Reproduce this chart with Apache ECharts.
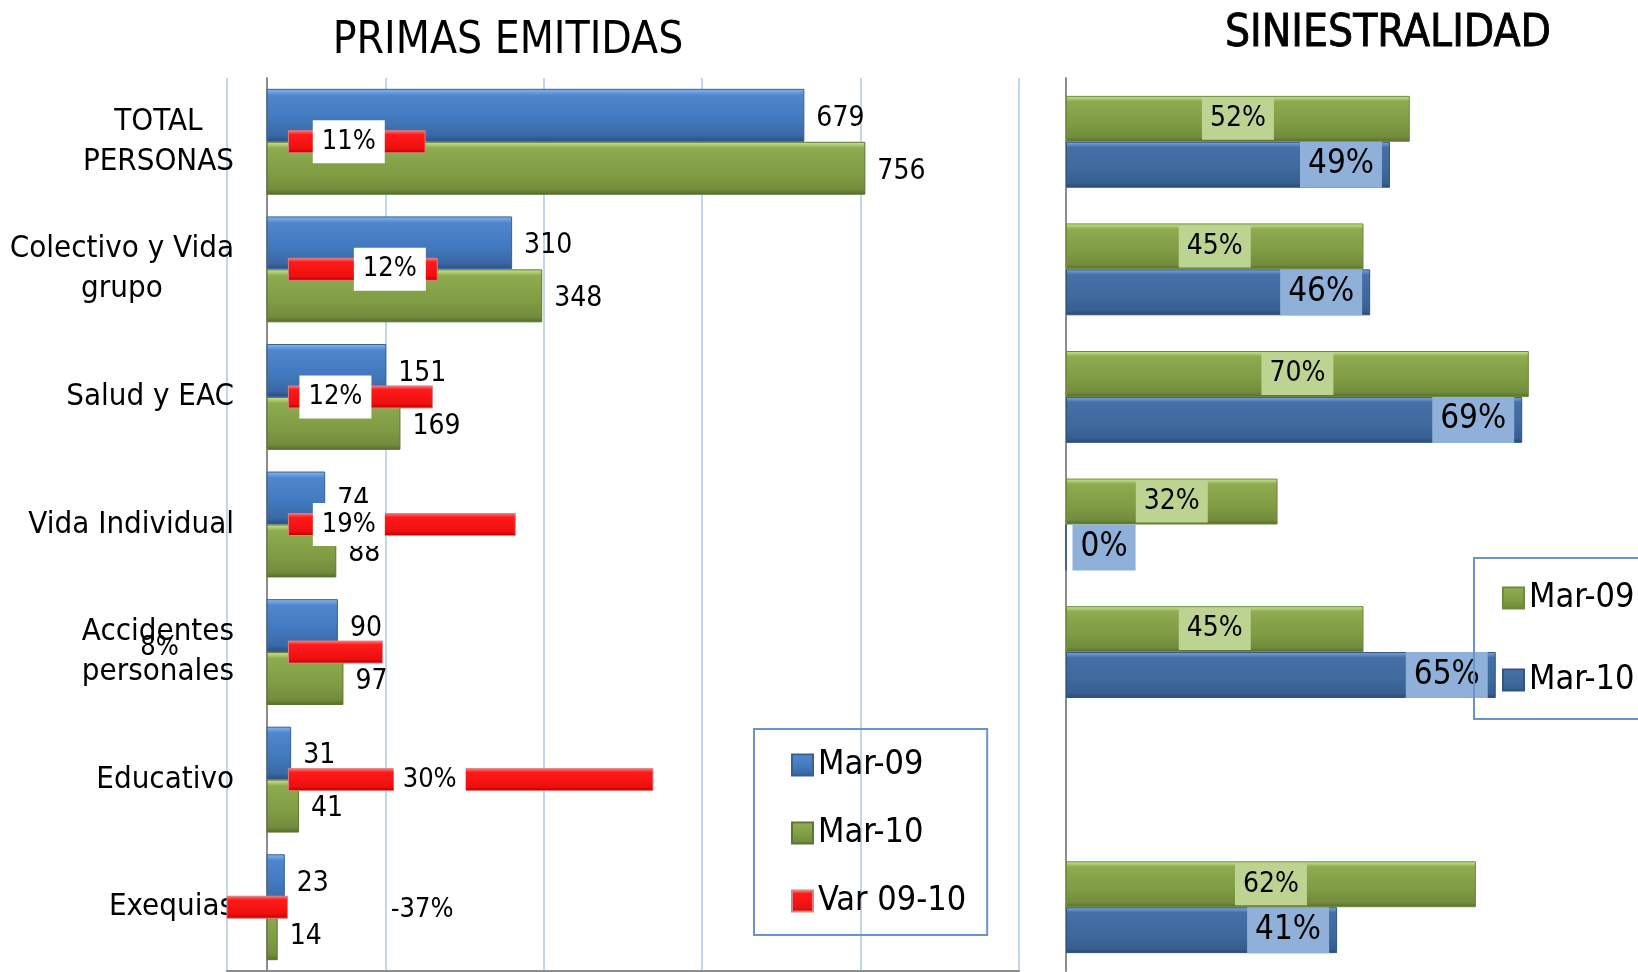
<!DOCTYPE html>
<html>
<head>
<meta charset="utf-8">
<script src="https://cdn.jsdelivr.net/npm/echarts@6/dist/echarts.min.js"></script>
<style>
  html, body { margin: 0; padding: 0; background: #ffffff; }
  #chart { width: 1638px; height: 972px; }
</style>
</head>
<body>
<div id="chart"></div>
<script>
// ---- data ----
var categories = ['TOTAL\nPERSONAS', 'Colectivo y Vida\ngrupo', 'Salud y EAC', 'Vida Individual', 'Accidentes\npersonales', 'Educativo', 'Exequias'];
var primasMar09 = [679, 310, 151, 74, 90, 31, 23];
var primasMar10 = [756, 348, 169, 88, 97, 41, 14];
var var0910 = [0.113, 0.123, 0.119, 0.187, 0.078, 0.30, -0.37];
var siniMar09 = [0.52, 0.45, 0.70, 0.32, 0.45, null, 0.62];
var siniMar10 = [0.49, 0.46, 0.69, 0.00, 0.65, null, 0.41];
var legendLeft = ['Mar-09', 'Mar-10', 'Var 09-10'];
var legendRight = ['S Mar-09', 'S Mar-10'];

// label placement tweaks for the variation labels (horizontal shift in px)
var varLabelShift = [-8, 27, -25, -53, -176, -41, 165];

var FONT = "'Liberation Sans Narrow', 'DejaVu Sans Condensed', 'Liberation Sans', sans-serif";

function grad(stops) {
  return { type: 'linear', x: 0, y: 0, x2: 0, y2: 1,
    colorStops: stops.map(function (s) { return { offset: s[0], color: s[1] }; }) };
}
var blueL = grad([[0, '#8ab8f0'], [0.12, '#4f86cc'], [0.55, '#427abf'], [0.88, '#3a68a6'], [1, '#2a4d7e']]);
var blueR = grad([[0, '#7ea9e0'], [0.12, '#466fa6'], [0.6, '#3e6a9e'], [0.9, '#375e8f'], [1, '#2a486f']]);
var green = grad([[0, '#cfe895'], [0.12, '#8eab4f'], [0.6, '#809c44'], [0.9, '#728c3c'], [1, '#55692c']]);
var red = grad([[0, '#ff8080'], [0.18, '#ff1a1a'], [0.8, '#ee0f0f'], [1, '#b30000']]);

function pct(v) { return Math.round(v * 100) + '%'; }

var varData = var0910.map(function (v, i) {
  var item = { value: v, label: { offset: [varLabelShift[i], 0] } };
  if (i === 4) { item.label.backgroundColor = 'transparent'; item.label.offset = [varLabelShift[i], -4]; }
  if (i === 6) { item.label.backgroundColor = 'transparent'; item.label.offset = [varLabelShift[i], 3]; }
  return item;
});

var sini10Data = siniMar10.map(function (v) {
  if (v === 0) return { value: v, label: { position: 'right', distance: 6 } };
  return v;
});

var chart = echarts.init(document.getElementById('chart'), null, { renderer: 'canvas' });
chart.setOption({
  animation: false,
  backgroundColor: '#ffffff',
  textStyle: { fontFamily: FONT },
  title: [
    { text: 'PRIMAS EMITIDAS', left: 508, top: 20, textAlign: 'center', padding: 0,
      textStyle: { fontFamily: FONT, fontSize: 44, fontWeight: 'normal', color: '#000' } },
    { text: 'SINIESTRALIDAD', left: 1388, top: 13, textAlign: 'center', padding: 0,
      textStyle: { fontFamily: FONT, fontSize: 44, fontWeight: 'normal', color: '#000',
        textBorderColor: '#000', textBorderWidth: 0.8 } }
  ],
  legend: [
    { data: legendLeft, orient: 'vertical', left: 754, top: 729,
      padding: [16, 21, 14, 37], itemGap: 28, itemWidth: 21, itemHeight: 21,
      borderColor: '#6a93cc', borderWidth: 2, icon: 'rect',
      textStyle: { fontFamily: FONT, fontSize: 34, lineHeight: 40, color: '#000' } },
    { data: legendRight, orient: 'vertical', left: 1474, top: 558,
      padding: [20, 60, 19, 28], itemGap: 42, itemWidth: 21, itemHeight: 21,
      borderColor: '#6a93cc', borderWidth: 2, icon: 'rect',
      formatter: function (n) { return n.replace('S ', ''); },
      textStyle: { fontFamily: FONT, fontSize: 34, lineHeight: 40, color: '#000' } }
  ],
  grid: [
    { left: 227, right: 619, top: 78, bottom: 1, outerBoundsMode: 'none', containLabel: false },
    { left: 1066, right: 10, top: 78, bottom: 1, outerBoundsMode: 'none', containLabel: false }
  ],
  xAxis: [
    { gridIndex: 0, type: 'value', min: -50, max: 950, interval: 200, position: 'bottom',
      axisLabel: { show: false }, axisTick: { show: false },
      axisLine: { show: true, lineStyle: { color: '#8c8c8c', width: 2 } },
      splitLine: { show: true, lineStyle: { color: '#c3d6ef', width: 2 } } },
    { gridIndex: 0, type: 'value', min: -0.05, max: 0.6, position: 'bottom', show: false,
      splitLine: { show: false } },
    { gridIndex: 1, type: 'value', min: 0, max: 0.85, show: false, splitLine: { show: false } }
  ],
  yAxis: [
    { gridIndex: 0, type: 'category', inverse: true, data: categories,
      axisTick: { show: false },
      axisLine: { show: true, onZero: true, onZeroAxisIndex: 0, lineStyle: { color: '#8c8c8c', width: 2 } },
      axisLabel: { margin: -7, color: '#000',
        formatter: function (v) { return v.split('\n').map(function (l) { return '{c|' + l + '}'; }).join('\n'); },
        rich: { c: { align: 'center', fontFamily: FONT, fontSize: 31, lineHeight: 40, color: '#000' } } } },
    { gridIndex: 0, type: 'category', inverse: true, data: categories, show: false },
    { gridIndex: 1, type: 'category', inverse: true, data: categories,
      axisTick: { show: false }, axisLabel: { show: false },
      axisLine: { show: true, lineStyle: { color: '#8c8c8c', width: 2 } } }
  ],
  series: [
    { name: 'Mar-09', type: 'bar', xAxisIndex: 0, yAxisIndex: 0, data: primasMar09,
      barGap: '0%', barCategoryGap: '17%',
      itemStyle: { color: blueL, borderColor: '#35609a', borderWidth: 1 },
      label: { show: true, position: 'right', distance: 12, offset: [0, 3], fontFamily: FONT, fontSize: 28, color: '#000' } },
    { name: 'Mar-10', type: 'bar', xAxisIndex: 0, yAxisIndex: 0, data: primasMar10,
      barGap: '0%', barCategoryGap: '17%',
      itemStyle: { color: green, borderColor: '#5d7532', borderWidth: 1 },
      label: { show: true, position: 'right', distance: 12, offset: [0, 3], fontFamily: FONT, fontSize: 28, color: '#000' } },
    { name: 'Var 09-10', type: 'bar', xAxisIndex: 1, yAxisIndex: 1, data: varData, z: 3,
      barWidth: 23, itemStyle: { color: red, borderColor: '#d98080', borderWidth: 1 },
      label: { show: true, position: 'inside', fontFamily: FONT, fontSize: 27, color: '#000',
        backgroundColor: '#ffffff', padding: [8, 9, 8, 9], formatter: function (p) { return pct(p.value); } } },
    { name: 'S Mar-09', type: 'bar', xAxisIndex: 2, yAxisIndex: 2, data: siniMar09,
      barGap: '0%', barCategoryGap: '28%',
      itemStyle: { color: green, borderColor: '#6f8a3a', borderWidth: 1 },
      label: { show: true, position: 'inside', fontFamily: FONT, fontSize: 28, color: '#000',
        backgroundColor: '#bcd392', padding: [7, 8, 7, 8], formatter: function (p) { return pct(p.value); } } },
    { name: 'S Mar-10', type: 'bar', xAxisIndex: 2, yAxisIndex: 2, data: sini10Data,
      barGap: '0%', barCategoryGap: '28%',
      itemStyle: { color: blueR, borderColor: '#30557f', borderWidth: 1 },
      label: { show: true, position: 'insideRight', distance: 8, fontFamily: FONT, fontSize: 33, color: '#000',
        backgroundColor: '#8fb0d8', padding: [7, 8, 6, 8], formatter: function (p) { return pct(p.value); } } }
  ]
});
</script>
</body>
</html>
